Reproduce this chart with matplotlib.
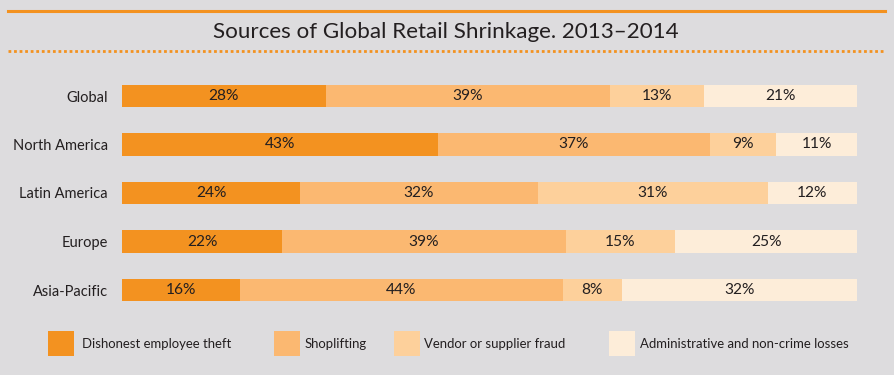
import matplotlib
matplotlib.use("Agg")
import matplotlib.pyplot as plt
from matplotlib.lines import Line2D
from matplotlib.patches import Rectangle
import numpy as np

plt.rcParams['font.family'] = ['Lato', 'DejaVu Sans']

title = "Sources of Global Retail Shrinkage. 2013\u20132014"
regions = ["Global", "North America", "Latin America", "Europe", "Asia-Pacific"]
series_names = ["Dishonest employee theft", "Shoplifting",
                "Vendor or supplier fraud", "Administrative and non-crime losses"]
employee_theft = [28, 43, 24, 22, 16]
shoplifting = [39, 37, 32, 39, 44]
vendor_fraud = [13, 9, 31, 15, 8]
admin_losses = [21, 11, 12, 25, 32]

colors = ["#F39220", "#FBB871", "#FDD09B", "#FDEDD9"]
bg = "#DDDCDE"
text_color = "#231F20"

W, H = 894, 375
fig = plt.figure(figsize=(W / 100, H / 100), dpi=100, facecolor=bg)

def fx(px):
    return px / W

def fy(py):
    return 1 - py / H

# axes placement
left_px, right_px = 122, 857
top_px, bot_px = 71.75, 314.25
ax = fig.add_axes([fx(left_px), fy(bot_px), fx(right_px - left_px), (bot_px - top_px) / H])
ax.set_facecolor(bg)
ax.patch.set_alpha(0)

data = np.array([employee_theft, shoplifting, vendor_fraud, admin_losses], dtype=float)
totals = data.sum(axis=0)
frac = data / totals
y = np.arange(len(regions))
left = np.zeros(len(regions))
for i in range(4):
    ax.barh(y, frac[i], left=left, height=0.454, color=colors[i], edgecolor='none')
    for j in range(len(regions)):
        ax.text(left[j] + frac[i][j] / 2, y[j], f"{int(data[i][j])}%",
                ha='center', va='center', fontsize=11.2, color=text_color)
    left = left + frac[i]

ax.set_xlim(0, 1)
ax.set_ylim(len(regions) - 0.5, -0.5)
ax.set_yticks(y)
ax.set_yticklabels(regions, fontsize=10.5, color=text_color)
ax.tick_params(axis='y', length=0, pad=10)
ax.set_xticks([])
for s in ax.spines.values():
    s.set_visible(False)

# title and rules
fig.add_artist(Line2D([fx(8), fx(885)], [fy(11), fy(11)], color="#F39220", lw=2.2))
fig.text(fx(446), fy(32), title, ha='center', va='center', fontsize=16.1, color=text_color)
fig.add_artist(Line2D([fx(8), fx(885)], [fy(51), fy(51)], color="#F39220", lw=2,
                      linestyle=(0, (1, 1))))

# legend
sq_x = [48, 274, 394, 609]
txt_x = [82, 305, 424, 640]
for i in range(4):
    fig.add_artist(Rectangle((fx(sq_x[i]), fy(356)), fx(26), 25 / H,
                             transform=fig.transFigure, color=colors[i], lw=0))
    fig.text(fx(txt_x[i]), fy(344), series_names[i], ha='left', va='center',
             fontsize=9.45, color=text_color)

fig.savefig("out.png", dpi=100, facecolor=bg)
